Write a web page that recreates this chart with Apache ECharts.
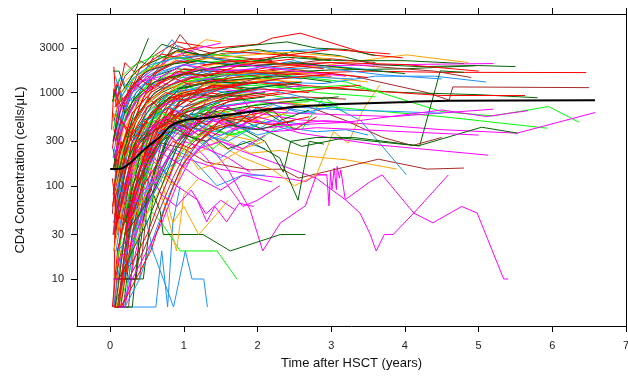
<!DOCTYPE html>
<html>
<head>
<meta charset="utf-8">
<script src="https://cdn.jsdelivr.net/npm/echarts@6/dist/echarts.min.js"></script>
<style>
  html, body { margin: 0; padding: 0; background: #fff; }
  #chart { width: 628px; height: 376px; }
</style>
</head>
<body>
<div id="chart"></div>
<script>
// ticks
var xTicks = [0, 1, 2, 3, 4, 5, 6, 7];
var yTicks = [10, 30, 100, 300, 1000, 3000];

// mean curve (years, cells/uL)
var meanT = [0, 0.14, 0.27, 0.41, 0.54, 0.68, 0.81, 0.95, 1.09, 1.22, 1.49, 1.76, 2.04, 2.58, 3.26, 3.93, 4.61, 6.58];
var meanV = [151, 152, 175, 224, 275, 337, 432, 489, 519, 526, 562, 601, 641, 708, 757, 789, 815, 829];

// individual patients, flat [t, v, t, v, ...]
var redLines = [
  [0.05,1900, 0.08,700, 0.2,2100, 0.35,1600, 0.5,1200, 0.8,2400, 1.2,2600],
  [0.04,30, 0.1,80, 0.25,350, 0.45,900, 0.7,1400, 1.1,1600, 1.6,1300, 2.2,1500],
  [0.06,5, 0.15,40, 0.3,200, 0.55,600, 0.85,1100, 1.3,1800, 2.0,1700, 2.8,2000],
  [0.05,150, 0.12,400, 0.3,1000, 0.6,2500, 0.9,3500, 1.4,3000, 2.0,3300, 2.2,3850, 2.58,4340, 3.53,2540, 3.97,2360],
  [0.07,10, 0.2,30, 0.4,150, 0.7,500, 1.0,900, 1.5,1300, 2.5,1600, 3.5,1700, 4.5,1650, 6.46,1640],
  [0.03,60, 0.1,120, 0.3,400, 0.6,1200, 1.0,1800, 1.8,1600, 2.6,1200, 3.5,1050, 4.5,930, 5.63,930],
  [0.08,300, 0.2,800, 0.4,1500, 0.65,2000, 0.9,2800, 1.2,3100],
  [0.1,20, 0.25,60, 0.5,250, 0.8,700, 1.0,350, 1.3,800, 1.7,1000],
  [0.05,400, 0.15,250, 0.3,600, 0.5,900, 0.75,600, 1.0,1200, 1.5,1500, 2.2,1900, 3.0,2100, 4.0,2000, 5.0,1700],
  [0.12,5, 0.2,15, 0.35,80, 0.55,300, 0.8,600, 1.1,450, 1.4,700],
  [0.04,900, 0.1,1300, 0.2,700, 0.4,1800, 0.7,2600, 1.0,2300, 1.5,2800, 2.1,2600, 2.8,2400],
  [0.06,100, 0.15,300, 0.25,150, 0.45,500, 0.7,400, 0.95,800, 1.3,1000, 1.8,900],
  [0.09,40, 0.2,200, 0.4,700, 0.6,1600, 0.9,2200, 1.3,2000, 2.0,2300, 3.0,2900, 3.8,2600],
  [0.03,250, 0.1,600, 0.3,300, 0.55,200, 0.8,450, 1.2,300, 1.6,600],
  [0.14,5, 0.3,30, 0.45,120, 0.7,350, 1.0,650, 1.4,900, 2.0,1100, 2.7,1000],
  [0.05,5, 0.07,80, 0.1,30, 0.2,150, 0.35,250, 0.5,180, 0.8,500],
  [0.02,400, 0.05,1100, 0.15,700, 0.3,1300, 0.5,1000, 0.8,1500, 1.1,1200],
  [0.03,5, 0.1,20, 0.3,100, 0.6,300, 0.9,700, 1.3,1100, 1.9,1300, 2.4,1200],
  [0.08,200, 0.25,400, 0.5,800, 0.8,1200, 1.2,1500, 1.7,1700, 2.3,1600, 3.0,1500],
  [0.1,60, 0.3,300, 0.5,500, 0.8,900, 1.1,800, 1.5,1100, 2.0,1300],
  [0.05,30, 0.15,60, 0.35,250, 0.6,450, 1.0,600, 1.4,800, 2.0,900, 2.9,1100, 3.4,1200],
  [0.06,700, 0.2,900, 0.4,1400, 0.6,1100, 0.9,1700, 1.3,1500, 1.8,2000, 2.5,2300],
  [0.12,10, 0.2,10, 0.3,60, 0.5,200, 0.7,500, 1.0,800, 1.3,1300, 1.8,1500],
  [0.04,80, 0.12,200, 0.3,600, 0.55,1000, 0.8,1300, 1.2,1900, 1.6,2200, 2.2,2100, 2.9,1800],
  [0.2,30, 0.4,150, 0.6,400, 0.9,500, 1.2,350, 1.5,500, 1.9,700, 2.4,650],
  [0.07,300, 0.15,500, 0.3,350, 0.5,700, 0.75,1000, 1.0,900, 1.4,1200, 1.8,1100],
  [0.03,120, 0.1,40, 0.2,100, 0.35,300, 0.55,600, 0.85,900, 1.2,1000, 1.7,1200, 2.3,1400, 3.0,1600, 3.5,1450],
  [0.05,5, 0.12,5, 0.25,50, 0.45,200, 0.7,600, 1.0,1000, 1.5,1200],
  [0.1,10, 0.3,15, 0.5,30, 0.7,80, 0.9,200, 1.1,400, 1.4,700, 1.8,900, 2.3,1000],
  [0.15,5, 0.35,10, 0.55,20, 0.75,60, 0.95,150, 1.2,300, 1.5,500, 2.0,600],
  [0.05,50, 0.25,40, 0.45,100, 0.65,180, 0.85,300, 1.1,250, 1.4,400, 1.8,500, 2.2,450, 2.7,550],
  [0.3,200, 0.6,400, 1.0,600, 1.3,450, 1.6,700, 1.9,500, 2.2,650, 2.5,400, 2.8,550]
];
var brownLines = [
  [0.06,10, 0.15,10, 0.4,10, 0.5,60, 0.7,300, 1.0,700, 1.4,1100, 2.0,1300, 2.6,1200],
  [0.1,5, 0.25,5, 0.35,40, 0.55,250, 0.8,600, 1.1,900, 1.6,1500, 2.4,1800, 3.3,1500, 4.3,1000, 4.6,830, 4.65,1150, 6.5,1130],
  [0.05,200, 0.2,500, 0.45,1200, 0.7,2000, 0.95,4200, 1.1,3000, 1.5,2500, 2.2,2200],
  [0.08,60, 0.3,150, 0.6,300, 1.0,250, 1.3,180, 1.9,148, 2.33,151, 2.56,121, 3.64,193, 4.3,151, 4.8,155],
  [0.04,150, 0.12,350, 0.3,800, 0.6,1200, 1.0,1600, 1.5,1900, 2.2,2000, 3.0,2100, 3.6,1900, 4.4,1700, 4.9,1450],
  [0.12,20, 0.25,100, 0.5,400, 0.8,600, 1.2,500, 1.6,350, 2.0,600, 2.6,750, 3.2,500, 3.7,330, 4.1,270, 4.5,330],
  [0.07,800, 0.2,1500, 0.4,2200, 0.6,1800, 0.9,3200, 1.2,2600],
  [0.15,30, 0.3,200, 0.5,700, 0.75,900, 1.1,1300, 1.6,1200, 2.3,1600],
  [0.03,50, 0.09,200, 0.2,90, 0.4,300, 0.65,450, 0.9,300, 1.25,500],
  [0.05,40, 0.15,150, 0.35,500, 0.6,1000, 0.9,1300, 1.3,1600, 1.8,1500, 2.5,1700],
  [0.1,10, 0.2,10, 0.3,10, 0.35,10, 0.45,100, 0.7,400, 1.0,700, 1.4,900],
  [0.04,300, 0.12,700, 0.3,1100, 0.6,1600, 0.9,2100, 1.3,2400, 1.8,2200, 2.4,2000, 3.0,2300, 3.6,2100],
  [0.08,80, 0.25,250, 0.5,500, 0.8,800, 1.1,1000, 1.5,900, 2.0,1100],
  [0.2,30, 0.35,80, 0.6,300, 0.9,600, 1.2,500, 1.5,700, 2.0,800, 2.6,900, 3.2,850],
  [0.06,5, 0.1,5, 0.2,20, 0.35,100, 0.55,400, 0.8,800, 1.1,1200, 1.6,1400],
  [0.1,20, 0.3,30, 0.5,80, 0.7,150, 0.9,300, 1.2,600, 1.5,800, 2.0,1000],
  [0.25,10, 0.45,20, 0.65,50, 0.85,120, 1.05,250, 1.3,400, 1.7,500],
  [0.3,250, 0.6,500, 0.9,400, 1.2,600, 1.6,500, 2.0,550]
];
var darkGreenLines = [
  [0.04,1700, 0.12,1700, 0.2,1100, 0.35,1800, 0.52,3840],
  [0.05,5, 0.2,10, 0.3,200, 0.5,120, 0.68,53, 0.72,30, 1.26,30, 1.63,20, 2.31,30, 2.65,30],
  [0.06,40, 0.2,300, 0.4,900, 0.7,1500, 1.0,2000, 1.5,2600, 2.0,2900, 2.6,2400, 3.1,2200, 4.0,2200, 4.8,2050],
  [0.05,150, 0.15,400, 0.35,1000, 0.6,1500, 0.9,1800, 1.3,1700, 2.0,1600, 3.0,1750, 4.0,1800, 5.0,1950, 5.5,1900],
  [0.1,10, 0.3,10, 0.45,10, 0.6,100, 0.8,400, 1.1,700, 1.5,1000, 2.2,1200, 3.0,1100, 4.0,1000, 5.0,950, 5.8,880],
  [0.08,80, 0.2,250, 0.45,500, 0.8,700, 1.3,400, 1.7,450, 2.1,300, 2.35,140, 2.45,300, 2.8,330, 3.3,330, 4.2,268, 4.48,1710, 4.8,1650],
  [0.1,100, 0.35,300, 0.7,500, 1.2,600, 1.8,500, 2.6,264, 3.16,325, 4.18,268, 5.04,425, 5.53,367],
  [0.05,500, 0.15,1000, 0.3,1500, 0.5,2200, 0.7,3300, 1.0,2800, 1.4,2300, 1.9,2000, 2.5,2800, 3.1,2500, 3.6,2000, 4.2,1900, 4.96,1950],
  [0.09,5, 0.18,5, 0.3,30, 0.5,200, 0.75,500, 1.0,900, 1.4,1200, 2.0,1100],
  [0.04,250, 0.1,120, 0.25,350, 0.45,700, 0.7,1000, 1.0,1300, 1.5,1400],
  [0.5,2000, 0.9,2800, 1.3,2500, 1.6,3000, 1.9,3200, 2.4,3500, 2.8,3000, 3.2,2900, 3.6,2500],
  [0.2,20, 0.35,60, 0.5,150, 0.7,300, 1.0,450, 1.3,380, 1.6,250, 1.9,300, 2.3,200, 2.55,70, 2.7,300, 2.9,280],
  [0.05,20, 0.15,100, 0.35,400, 0.6,800, 0.9,1100, 1.3,1300, 1.8,1400, 2.4,1500, 3.0,1300],
  [0.1,5, 0.3,5, 0.4,30, 0.6,150, 0.85,400, 1.2,700, 1.6,900, 2.1,1000],
  [0.04,300, 0.15,700, 0.3,1200, 0.5,1700, 0.8,2000, 1.2,2200, 1.8,1900, 2.5,2100, 3.3,1800, 4.0,1600],
  [0.08,50, 0.25,200, 0.45,450, 0.7,800, 1.0,1000, 1.4,900, 1.9,1100, 2.6,1300],
  [0.06,10, 0.15,10, 0.25,10, 0.35,10, 0.5,80, 0.75,300, 1.0,600, 1.5,800],
  [0.12,150, 0.3,500, 0.55,900, 0.9,1500, 1.3,1800, 1.8,2100, 2.4,2400, 3.0,2200],
  [0.03,800, 0.1,1200, 0.2,600, 0.35,900, 0.6,1300, 1.0,1600, 1.5,1500],
  [0.2,40, 0.35,100, 0.6,250, 0.9,450, 1.3,600, 1.8,700, 2.4,800, 3.1,900],
  [0.07,5, 0.12,10, 0.25,60, 0.45,300, 0.65,700, 0.95,1100, 1.4,1300, 2.0,1250],
  [0.12,10, 0.3,20, 0.5,40, 0.7,100, 0.9,250, 1.2,500, 1.6,800, 2.1,900],
  [0.2,30, 0.4,50, 0.6,90, 0.8,200, 1.0,350, 1.3,300, 1.6,450, 2.0,400, 2.5,500],
  [0.4,300, 0.8,500, 1.1,400, 1.4,600, 1.7,450, 2.0,700, 2.3,500, 2.7,650]
];
var blueLines = [
  [0.05,5, 0.62,5, 0.7,20, 0.78,5, 0.85,40, 0.95,100],
  [0.45,60, 0.58,20, 0.86,5, 1.02,20, 1.11,10, 1.27,10, 1.32,5],
  [0.04,600, 0.1,300, 0.25,900, 0.5,1500, 0.8,2000, 1.1,2400, 1.6,2600, 2.2,2800, 2.96,2900],
  [0.08,20, 0.2,80, 0.4,300, 0.65,700, 0.9,1000, 1.3,1200, 2.0,1300, 2.9,1250, 3.6,1500, 4.4,1500, 5.1,1300],
  [0.05,100, 0.15,250, 0.35,500, 0.6,800, 1.0,700, 1.5,900, 2.1,1100, 2.6,900, 3.03,708, 3.4,500, 4.02,131],
  [0.1,5, 0.18,10, 0.35,40, 0.6,150, 0.9,400, 1.2,300, 1.5,200, 1.8,300, 2.1,250],
  [0.07,300, 0.2,700, 0.4,1100, 0.7,1700, 1.0,2000, 1.4,1600, 1.9,1800, 2.5,2200, 3.0,1800, 3.7,1550, 4.5,1400],
  [0.04,30, 0.12,60, 0.3,150, 0.6,400, 0.9,550, 1.3,350, 1.6,500, 2.0,400, 2.5,700, 3.2,650, 3.8,630, 4.5,600],
  [0.12,400, 0.3,1100, 0.55,1800, 0.84,3700, 1.0,2500, 1.3,2000],
  [0.2,10, 0.35,30, 0.55,100, 0.85,250, 1.1,200, 1.45,100, 1.8,130, 2.1,130],
  [0.06,1000, 0.15,1500, 0.3,800, 0.5,1300, 0.75,1100, 1.0,1500, 1.5,1800],
  [0.05,40, 0.2,150, 0.45,450, 0.75,900, 1.1,1300, 1.5,1500, 2.0,1600, 2.6,1400],
  [0.1,5, 0.2,5, 0.3,20, 0.5,80, 0.75,300, 1.0,500, 1.4,700, 1.9,800, 2.5,900],
  [0.04,200, 0.12,500, 0.3,1000, 0.6,1500, 0.9,1900, 1.3,2100, 1.8,2000, 2.4,1800, 3.1,1900, 3.7,1700],
  [0.08,60, 0.25,250, 0.5,600, 0.8,1000, 1.2,1100, 1.6,1000, 2.2,1200],
  [0.15,10, 0.3,40, 0.5,150, 0.8,400, 1.1,600, 1.4,500, 1.8,600, 2.3,700, 2.8,600],
  [0.06,150, 0.15,80, 0.3,200, 0.55,500, 0.9,800, 1.3,1000, 1.8,1200, 2.5,1500, 3.3,1400],
  [0.05,5, 0.1,10, 0.2,30, 0.4,120, 0.6,350, 0.9,450, 1.2,400, 1.5,600],
  [0.3,300, 0.5,400, 0.8,350, 1.1,500, 1.4,380, 1.7,450, 2.0,350, 2.4,420, 2.8,380, 3.2,400, 3.5,350],
  [0.07,1500, 0.15,900, 0.3,1400, 0.55,2000, 0.85,2300, 1.2,2500, 1.6,2200],
  [0.1,20, 0.3,30, 0.5,60, 0.7,120, 0.9,250, 1.2,450, 1.5,600, 1.9,550],
  [0.2,5, 0.4,10, 0.6,30, 0.8,80, 1.0,180, 1.3,300, 1.7,400, 2.2,500, 2.7,450],
  [0.08,100, 0.3,60, 0.5,90, 0.75,150, 1.0,200, 1.3,350, 1.6,300, 2.0,450],
  [0.5,500, 0.8,700, 1.1,550, 1.4,800, 1.8,600, 2.2,750, 2.6,600, 3.0,700]
];
var orangeLines = [
  [0.05,400, 0.12,200, 0.25,500, 0.45,1000, 0.7,1800, 1.0,2600, 1.3,3700, 1.5,3500],
  [0.1,30, 0.25,150, 0.45,400, 0.7,700, 1.0,1000, 1.5,1400, 2.2,1600, 3.0,2000, 4.02,2540, 4.86,2100],
  [0.07,20, 0.2,20, 0.35,80, 0.55,300, 0.75,80, 0.85,40, 1.0,60, 1.2,30, 1.45,50, 1.6,70],
  [0.12,50, 0.3,150, 0.6,300, 0.9,450, 1.3,400, 1.9,224, 2.3,240, 2.6,210, 3.2,190, 3.89,151],
  [0.2,100, 0.4,250, 0.7,600, 1.0,500, 1.4,300, 1.8,200, 2.2,150, 2.5,100, 2.8,131, 3.03,382, 3.23,287, 3.43,652, 3.66,1210],
  [0.05,800, 0.15,1200, 0.35,1700, 0.6,2200, 0.9,2700, 1.3,2400, 1.9,2900, 2.4,2500, 3.0,2300],
  [0.08,5, 0.2,30, 0.35,200, 0.6,600, 0.9,900, 1.3,1200, 1.9,1400, 2.6,1300],
  [0.3,60, 0.5,150, 0.75,120, 0.9,100, 1.1,300, 1.4,500, 1.8,400],
  [0.06,150, 0.18,400, 0.4,800, 0.65,1300, 1.0,1600, 1.4,2000, 2.0,2100, 2.7,1900, 3.3,1800],
  [0.05,60, 0.2,250, 0.4,500, 0.7,900, 1.0,1300, 1.5,1500, 2.1,1700, 2.8,1600],
  [0.1,5, 0.2,10, 0.35,50, 0.55,200, 0.8,500, 1.1,700, 1.5,900, 2.0,1000],
  [0.04,500, 0.15,1000, 0.35,1500, 0.6,1900, 0.9,2100, 1.3,2300, 1.8,2500, 2.4,2700, 3.2,2400],
  [0.15,20, 0.3,60, 0.5,200, 0.75,350, 1.0,250, 1.2,150, 1.5,180, 1.8,250, 2.1,300],
  [0.07,100, 0.2,300, 0.45,700, 0.75,1100, 1.1,1300, 1.6,1200, 2.2,1400, 2.8,1500, 3.5,1300],
  [0.2,200, 0.4,400, 0.6,300, 0.85,500, 1.1,400, 1.4,600, 1.8,500, 2.3,800, 2.9,700],
  [0.05,20, 0.12,40, 0.25,120, 0.4,300, 0.65,700, 0.95,1000, 1.3,1100],
  [0.35,300, 0.55,150, 0.75,60, 0.9,20, 1.0,80, 1.2,120],
  [0.1,10, 0.3,20, 0.5,50, 0.7,100, 0.9,200, 1.1,300, 1.4,400, 1.8,600],
  [0.25,40, 0.45,70, 0.65,150, 0.85,100, 1.05,200, 1.3,250, 1.6,350, 2.0,300],
  [0.3,150, 0.6,350, 0.9,550, 1.2,450, 1.5,650, 1.9,500, 2.4,600]
];
var magentaLines = [
  [0.2,80, 0.5,250, 0.9,400, 1.3,300, 1.6,150, 1.9,55, 2.07,20, 2.31,40, 2.65,61, 2.8,131, 2.94,131],
  [0.3,100, 0.6,300, 1.0,200, 1.5,150, 2.0,130, 2.4,120, 2.65,111, 2.8,131, 2.94,131, 2.97,61, 2.99,142, 3.01,91, 3.04,155, 3.07,91, 3.08,161, 3.11,121, 3.13,148, 3.19,71, 3.39,51, 3.53,30, 3.61,20, 3.72,30, 3.84,30, 4.12,51, 4.59,131],
  [1.2,400, 1.7,250, 2.2,180, 2.8,120, 3.19,71, 3.53,111, 3.69,131, 4.12,51, 4.38,40, 4.77,60, 4.98,51, 5.34,10, 5.4,10],
  [0.1,20, 0.3,100, 0.55,300, 0.9,600, 1.4,700, 2.0,600, 2.58,509, 3.5,460, 4.5,400, 5.52,367, 6.58,611],
  [0.05,60, 0.2,200, 0.45,500, 0.8,800, 1.2,900, 1.8,850, 2.0,500, 2.58,367, 3.62,275, 5.13,213],
  [0.15,30, 0.3,120, 0.5,350, 0.8,600, 1.2,700, 1.8,650, 2.5,600, 3.84,553, 5.2,664],
  [0.08,200, 0.2,500, 0.4,900, 0.7,1400, 1.1,1700, 1.6,1900, 2.2,2000, 3.0,1950, 4.0,2000, 5.2,2050],
  [0.06,10, 0.2,10, 0.4,50, 0.6,200, 0.8,120, 1.0,300, 1.3,250, 1.6,200, 1.9,140],
  [0.1,5, 0.25,30, 0.45,150, 0.7,400, 1.0,350, 1.3,200, 1.6,100, 1.8,60, 2.0,70, 2.3,100],
  [0.05,300, 0.15,700, 0.3,1200, 0.6,1800, 0.9,2500, 1.2,3000, 1.5,3400],
  [0.2,40, 0.4,120, 0.7,300, 1.0,450, 1.4,500, 1.9,400, 2.5,450, 3.2,480, 4.5,650, 5.11,553, 5.67,640],
  [0.4,250, 0.7,150, 0.9,100, 1.18,71, 1.31,41, 1.42,60, 1.58,41, 1.75,65, 1.95,60],
  [0.07,1200, 0.12,600, 0.3,1000, 0.5,1500, 0.8,1200, 1.1,1500, 1.5,1300],
  [0.05,30, 0.2,150, 0.4,400, 0.65,700, 1.0,900, 1.4,1100, 2.0,1000, 2.6,1200],
  [0.1,5, 0.2,5, 0.35,20, 0.55,100, 0.8,300, 1.1,500, 1.5,600, 2.0,500],
  [0.06,200, 0.15,400, 0.35,800, 0.6,1300, 0.9,1600, 1.3,1800, 1.8,2000, 2.5,1700, 3.2,1500],
  [0.15,60, 0.35,200, 0.6,450, 0.9,300, 1.2,400, 1.5,350, 1.9,500, 2.4,450],
  [0.04,10, 0.15,10, 0.25,40, 0.4,150, 0.6,250, 0.9,180, 1.2,120, 1.5,90, 1.8,130, 2.2,110],
  [0.08,500, 0.2,900, 0.4,1300, 0.7,1500, 1.0,2000, 1.5,1700, 2.0,1800],
  [0.2,100, 0.4,300, 0.7,500, 1.0,400, 1.3,550, 1.7,450, 2.2,380, 2.8,420, 3.4,400, 4.0,380, 5.0,350],
  [0.5,150, 0.7,80, 0.9,60, 1.1,90, 1.3,50, 1.5,70, 1.7,55],
  [0.1,15, 0.3,25, 0.5,60, 0.7,150, 0.9,300, 1.2,500, 1.5,700, 2.0,800, 2.5,750],
  [0.2,50, 0.4,80, 0.6,120, 0.8,200, 1.0,160, 1.2,250, 1.5,300, 1.8,250, 2.1,350],
  [0.15,5, 0.3,10, 0.5,20, 0.7,40, 0.9,100, 1.1,200, 1.4,350],
  [0.5,400, 0.8,550, 1.1,350, 1.4,500, 1.7,400, 2.0,550, 2.4,450, 2.9,500, 3.3,480]
];
var greenLines = [
  [0.3,100, 0.5,60, 0.7,40, 0.95,20, 1.45,20, 1.72,10],
  [0.05,200, 0.2,500, 0.45,1100, 0.8,1600, 1.2,1800, 1.8,1700, 2.5,1500, 3.2,1300, 4.5,625, 5.19,562, 5.95,708, 6.36,482],
  [0.1,50, 0.3,200, 0.55,500, 0.9,800, 1.4,900, 2.0,800, 3.0,700, 4.5,553, 5.93,415],
  [0.08,5, 0.15,5, 0.25,40, 0.45,250, 0.7,700, 1.0,1100, 1.4,1400, 2.0,1500, 2.6,1600],
  [0.04,800, 0.12,1400, 0.3,1900, 0.6,2500, 0.9,2300, 1.3,2600, 1.8,2400],
  [0.2,20, 0.4,100, 0.6,250, 0.85,450, 1.1,350, 1.4,250, 1.7,400, 2.0,300, 2.3,450, 2.6,400, 2.9,900, 3.2,600],
  [0.06,30, 0.2,100, 0.4,400, 0.7,900, 1.0,1200, 1.3,1000, 1.7,1300, 2.2,1200, 2.8,1000, 3.6,900],
  [0.1,300, 0.25,700, 0.5,1200, 0.8,1500, 1.2,1400, 1.7,1100, 2.3,900, 3.1,760],
  [0.15,10, 0.3,60, 0.5,300, 0.75,600, 1.0,500, 1.3,650, 1.7,550],
  [0.05,100, 0.2,300, 0.45,700, 0.75,1100, 1.1,1500, 1.6,1600, 2.2,1400, 2.9,1500],
  [0.1,5, 0.25,10, 0.4,60, 0.6,250, 0.85,500, 1.2,800, 1.6,1000],
  [0.04,400, 0.15,900, 0.35,1500, 0.6,2000, 0.9,2400, 1.3,2100, 1.8,2300, 2.4,2000],
  [0.15,30, 0.3,100, 0.55,250, 0.8,500, 1.1,700, 1.5,600, 2.0,750, 2.7,800],
  [0.07,50, 0.2,150, 0.4,350, 0.65,600, 1.0,900, 1.4,1100, 1.9,1200, 2.5,1100, 3.2,1200, 3.7,1000],
  [0.2,200, 0.4,350, 0.6,250, 0.85,400, 1.1,300, 1.35,450, 1.6,350, 1.9,400],
  [0.06,10, 0.12,20, 0.25,80, 0.45,300, 0.7,800, 1.0,1300, 1.4,1500],
  [0.1,10, 0.3,20, 0.5,50, 0.7,150, 0.95,350, 1.2,600, 1.6,900],
  [0.2,60, 0.4,100, 0.6,180, 0.8,130, 1.0,250, 1.3,400, 1.7,350, 2.1,500],
  [0.4,400, 0.7,600, 1.0,450, 1.3,700, 1.6,550, 2.0,650, 2.5,550]
];

var groups = [
  { color: '#FF0000', lines: redLines },
  { color: '#006400', lines: darkGreenLines },
  { color: '#1E90FF', lines: blueLines },
  { color: '#FFA500', lines: orangeLines },
  { color: '#FF00FF', lines: magentaLines },
  { color: '#A52A2A', lines: brownLines },
  { color: '#00FF00', lines: greenLines }
];

function toPoints(flat) {
  var pts = [];
  for (var i = 0; i < flat.length; i += 2) pts.push([flat[i], Math.log10(flat[i + 1])]);
  return pts;
}

// interleave colours so no single colour sits on top
var series = [];
var maxLen = Math.max.apply(null, groups.map(function (g) { return g.lines.length; }));
for (var k = 0; k < maxLen; k++) {
  groups.forEach(function (g) {
    if (!g.lines[k]) return;
    series.push({
      type: 'line', data: toPoints(g.lines[k]), symbol: 'none', silent: true,
      lineStyle: { width: 1, color: g.color }, itemStyle: { color: g.color }, z: 2
    });
  });
}
var meanPts = meanT.map(function (t, i) { return [t, Math.log10(meanV[i])]; });
series.push({
  type: 'line', data: meanPts, symbol: 'none', smooth: 0.3, silent: true,
  lineStyle: { width: 2, color: '#000' }, z: 5
});

var font = 'Liberation Sans, Arial, Helvetica, sans-serif';
var yMin = Math.log10(3.13), yMax = Math.log10(6970);
var yTickVals = yTicks.map(function (v) { return Math.log10(v); });

var chart = echarts.init(document.getElementById('chart'));
chart.setOption({
  animation: false,
  textStyle: { fontFamily: font },
  grid: { left: 77, right: 2, top: 14, bottom: 50, outerBoundsMode: 'none', containLabel: false },
  xAxis: [{
    type: 'value', min: -0.45, max: 7, position: 'bottom',
    axisLine: { show: true, onZero: false, lineStyle: { color: '#000', width: 1 } },
    axisTick: { show: true, length: 6, customValues: xTicks, lineStyle: { color: '#000' } },
    axisLabel: { customValues: xTicks, margin: 14, fontSize: 11, color: '#222', fontFamily: font },
    splitLine: { show: false },
    name: 'Time after HSCT (years)', nameLocation: 'middle', nameGap: 31,
    nameTextStyle: { fontSize: 13, color: '#111', fontFamily: font }
  }, {
    type: 'value', min: -0.45, max: 7, position: 'top',
    axisLine: { show: true, onZero: false, lineStyle: { color: '#000', width: 1 } },
    axisTick: { show: true, length: 6, customValues: xTicks, lineStyle: { color: '#000' } },
    axisLabel: { show: false }, splitLine: { show: false }
  }],
  yAxis: [{
    type: 'value', min: yMin, max: yMax, position: 'left',
    axisLine: { show: true, onZero: false, lineStyle: { color: '#000', width: 1 } },
    axisTick: { show: true, length: 6, customValues: yTickVals, lineStyle: { color: '#000' } },
    axisLabel: {
      customValues: yTickVals, margin: 13, fontSize: 11, color: '#222', fontFamily: font,
      formatter: function (v) { return String(Math.round(Math.pow(10, v))); }
    },
    splitLine: { show: false },
    name: 'CD4 Concentration (cells/\u03bcL)', nameLocation: 'middle', nameGap: 50,
    nameTextStyle: { fontSize: 13, color: '#111', fontFamily: font }
  }, {
    type: 'value', min: yMin, max: yMax, position: 'right',
    axisLine: { show: true, onZero: false, lineStyle: { color: '#000', width: 1 } },
    axisTick: { show: false }, axisLabel: { show: false }, splitLine: { show: false }
  }],
  series: series
});
</script>
</body>
</html>
